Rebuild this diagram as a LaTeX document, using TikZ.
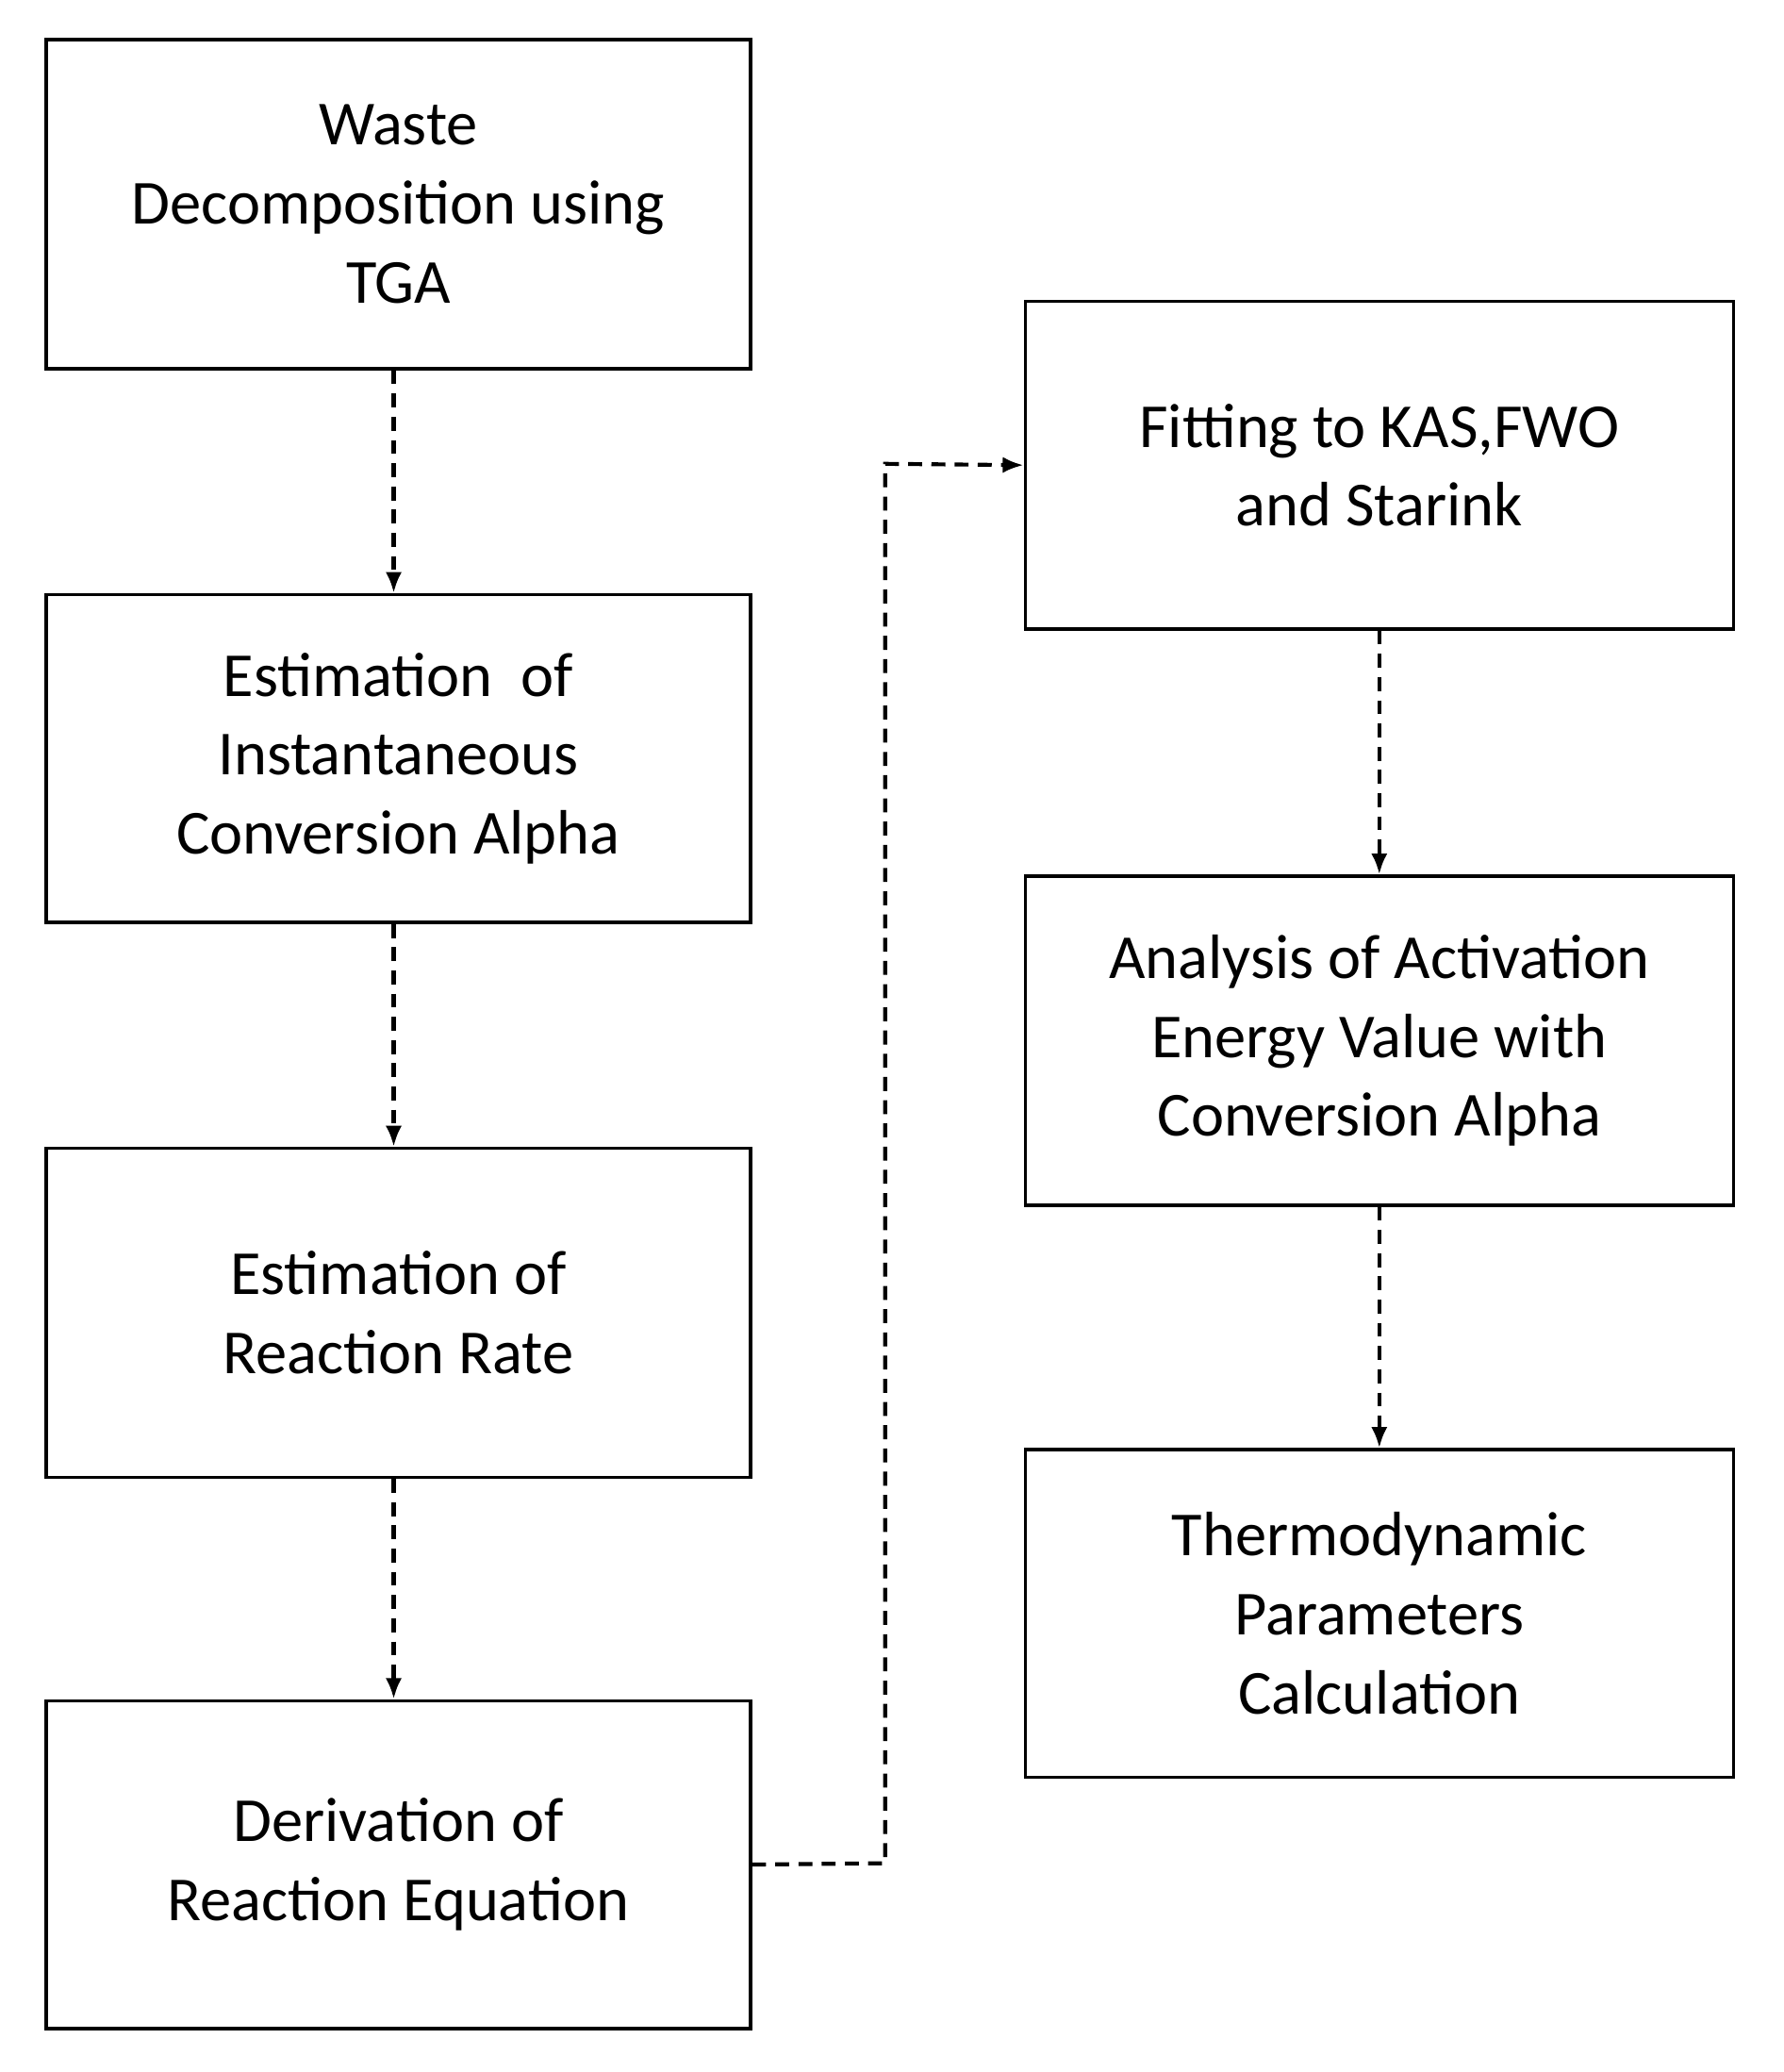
\documentclass[tikz,border=0pt]{standalone}
\usepackage{fontspec}
\setmainfont{Carlito}
\usetikzlibrary{arrows.meta}
\begin{document}
\begin{tikzpicture}[x=0.02cm,y=-0.02cm,
 box/.style={draw,line width=1.4pt,inner sep=0pt,align=center,font=\fontsize{27}{34}\selectfont},
 arr/.style={line width=1.7pt,dash pattern=on 6pt off 4pt,-{Latex[length=9pt,width=7pt]}}]
\useasboundingbox (0,0) rectangle (1350,1568);
\newcommand\bx[6]{\node[box,minimum width=#4*0.02cm,minimum height=#5*0.02cm] (#1) at (#2,#3) {#6};}
\bx{b1}{301.5}{154.5}{533}{249}{Waste\\Decomposition using\\TGA}
\bx{b2}{301.5}{574}{533}{248}{Estimation\ \ of\\Instantaneous\\Conversion Alpha}
\bx{b3}{301.5}{993.5}{533}{249}{Estimation of\\Reaction Rate}
\bx{b4}{301.5}{1411}{533}{248}{Derivation of\\Reaction Equation}
\bx{r1}{1044}{352}{536}{248}{Fitting to KAS,FWO\\and Starink}
\bx{r2}{1044}{787.5}{536}{249}{Analysis of Activation\\Energy Value with\\Conversion Alpha}
\bx{r3}{1044}{1221}{536}{248}{Thermodynamic\\Parameters\\Calculation}
\draw[arr] (b1.south -| 298,0) -- (b2.north -| 298,0);
\draw[arr] (b2.south -| 298,0) -- (b3.north -| 298,0);
\draw[arr] (b3.south -| 298,0) -- (b4.north -| 298,0);
\draw[arr] (r1) -- (r2);
\draw[arr] (r2) -- (r3);
\coordinate (k1) at (670,1410);
\coordinate (k2) at (670,351);
\draw[arr] (b4.east) -- (k1) -- (k2) -- (r1.west);
\end{tikzpicture}
\end{document}
